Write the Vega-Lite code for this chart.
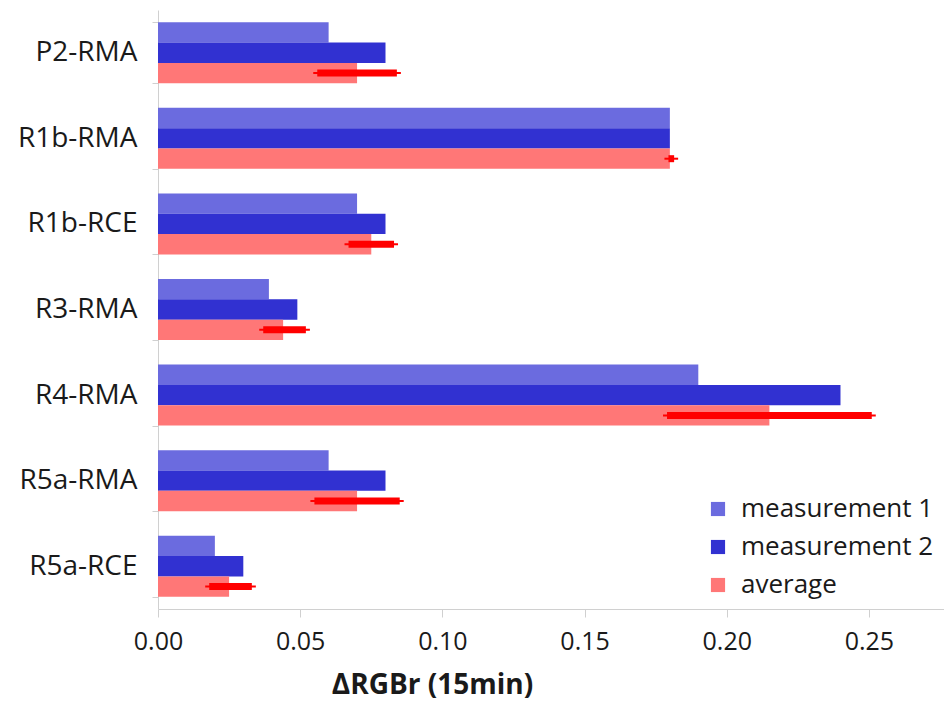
{
  "$schema": "https://vega.github.io/schema/vega-lite/v6.json",
  "width": 786,
  "height": 599,
  "autosize": {"type": "none"},
  "padding": {"left": 158, "top": 10, "right": 0, "bottom": 93},
  "background": "white",
  "config": {
    "font": "Open Sans",
    "view": {"stroke": null}
  },
  "data": {
    "values": [
      {"cat": "P2-RMA", "series": "measurement 1", "value": 0.06},
      {"cat": "P2-RMA", "series": "measurement 2", "value": 0.08},
      {"cat": "P2-RMA", "series": "average", "value": 0.07, "lo": 0.056, "hi": 0.084},
      {"cat": "R1b-RMA", "series": "measurement 1", "value": 0.18},
      {"cat": "R1b-RMA", "series": "measurement 2", "value": 0.18},
      {"cat": "R1b-RMA", "series": "average", "value": 0.18, "lo": 0.1795, "hi": 0.1815},
      {"cat": "R1b-RCE", "series": "measurement 1", "value": 0.07},
      {"cat": "R1b-RCE", "series": "measurement 2", "value": 0.08},
      {"cat": "R1b-RCE", "series": "average", "value": 0.075, "lo": 0.067, "hi": 0.083},
      {"cat": "R3-RMA", "series": "measurement 1", "value": 0.039},
      {"cat": "R3-RMA", "series": "measurement 2", "value": 0.049},
      {"cat": "R3-RMA", "series": "average", "value": 0.044, "lo": 0.037, "hi": 0.052},
      {"cat": "R4-RMA", "series": "measurement 1", "value": 0.19},
      {"cat": "R4-RMA", "series": "measurement 2", "value": 0.24},
      {"cat": "R4-RMA", "series": "average", "value": 0.215, "lo": 0.179, "hi": 0.251},
      {"cat": "R5a-RMA", "series": "measurement 1", "value": 0.06},
      {"cat": "R5a-RMA", "series": "measurement 2", "value": 0.08},
      {"cat": "R5a-RMA", "series": "average", "value": 0.07, "lo": 0.055, "hi": 0.085},
      {"cat": "R5a-RCE", "series": "measurement 1", "value": 0.02},
      {"cat": "R5a-RCE", "series": "measurement 2", "value": 0.03},
      {"cat": "R5a-RCE", "series": "average", "value": 0.025, "lo": 0.018, "hi": 0.033}
    ]
  },
  "encoding": {
    "y": {
      "field": "cat",
      "type": "nominal",
      "sort": ["P2-RMA", "R1b-RMA", "R1b-RCE", "R3-RMA", "R4-RMA", "R5a-RMA", "R5a-RCE"],
      "scale": {"paddingInner": 0.287, "paddingOuter": 0.1435},
      "axis": {
        "title": null,
        "domainColor": "#d0d0d0",
        "tickColor": "#d0d0d0",
        "tickSize": 6,
        "tickBand": "extent",
        "labelFontSize": 28,
        "labelColor": "#1a1a1a",
        "labelPadding": 15,
        "labelLimit": 0
      }
    },
    "yOffset": {
      "field": "series",
      "type": "nominal",
      "sort": ["measurement 1", "measurement 2", "average"],
      "scale": {"domain": ["measurement 1", "measurement 2", "average"], "paddingInner": 0, "paddingOuter": 0}
    }
  },
  "layer": [
    {
      "mark": {"type": "bar"},
      "encoding": {
        "x": {
          "field": "value",
          "type": "quantitative",
          "scale": {"domain": [0, 0.2764], "nice": false},
          "axis": {
            "title": "ΔRGBr (15min)",
            "titleFontSize": 28,
            "titleFontWeight": "bold",
            "titleColor": "#1a1a1a",
            "titleX": 274,
            "titleY": 84,
            "titleAlign": "center",
            "titleBaseline": "alphabetic",
            "values": [0, 0.05, 0.1, 0.15, 0.2, 0.25],
            "format": ".2f",
            "grid": false,
            "domainColor": "#d0d0d0",
            "tickColor": "#d0d0d0",
            "tickSize": 8,
            "labelFontSize": 25,
            "labelColor": "#1a1a1a",
            "labelPadding": 12,
            "labelFlush": false
          }
        },
        "color": {
          "field": "series",
          "type": "nominal",
          "scale": {
            "domain": ["measurement 1", "measurement 2", "average"],
            "range": ["#6b6bdf", "#3131d1", "#ff7777"]
          },
          "legend": {
            "title": null,
            "orient": "none",
            "legendX": 547,
            "legendY": 486,
            "symbolType": "square",
            "symbolSize": 200,
            "symbolStrokeWidth": 0,
            "labelFontSize": 26,
            "labelColor": "#1a1a1a",
            "labelLimit": 0,
            "rowPadding": 12,
            "labelOffset": 10
          }
        }
      }
    },
    {
      "transform": [{"filter": "datum.series == 'average'"}],
      "mark": {"type": "rule", "color": "#ff0000", "strokeWidth": 2, "xOffset": -4, "x2Offset": 4},
      "encoding": {
        "x": {"field": "lo", "type": "quantitative"},
        "x2": {"field": "hi"}
      }
    },
    {
      "transform": [{"filter": "datum.series == 'average'"}],
      "mark": {"type": "rule", "color": "#ff0000", "strokeWidth": 7},
      "encoding": {
        "x": {"field": "lo", "type": "quantitative"},
        "x2": {"field": "hi"}
      }
    }
  ]
}
